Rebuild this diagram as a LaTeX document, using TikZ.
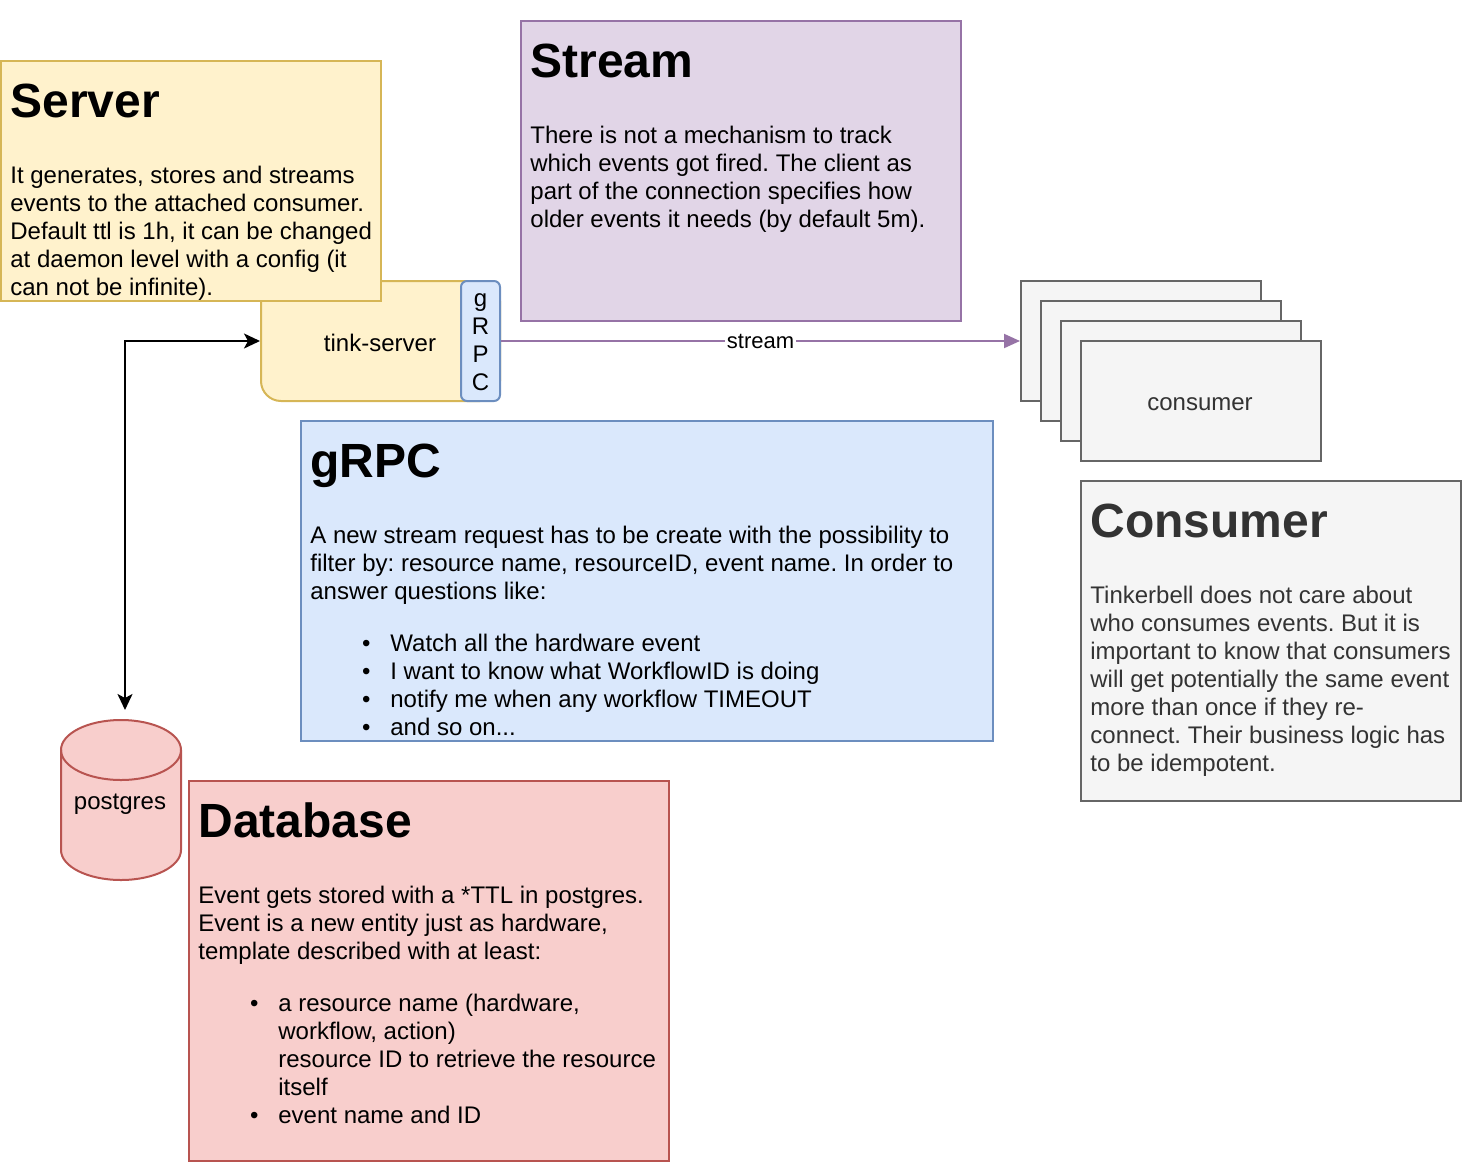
\documentclass[tikz,border=0pt]{standalone}
\usepackage{fontspec}
\setmainfont{Liberation Sans}
\usetikzlibrary{arrows.meta}
\frenchspacing
\definecolor{yfill}{HTML}{FFF2CC}\definecolor{ydraw}{HTML}{D6B656}
\definecolor{bfill}{HTML}{DAE8FC}\definecolor{bdraw}{HTML}{6C8EBF}
\definecolor{pfill}{HTML}{E1D5E7}\definecolor{pdraw}{HTML}{9673A6}
\definecolor{gfill}{HTML}{F5F5F5}\definecolor{gdraw}{HTML}{666666}\definecolor{gtext}{HTML}{333333}
\definecolor{rfill}{HTML}{F8CECC}\definecolor{rdraw}{HTML}{B85450}
\begin{document}
\begin{tikzpicture}[x=0.5pt,y=-0.5pt,
  box/.style={rectangle, line width=1pt, inner sep=0pt},
  body/.style={anchor=base west, inner sep=0pt, align=left, font=\fontsize{12}{14}\selectfont},
  ttl/.style={anchor=base west, inner sep=0pt, font=\fontsize{24}{28}\selectfont\bfseries},
  lbl/.style={inner sep=0pt, font=\fontsize{12}{14}\selectfont},
  tip/.style={line width=1pt}
]
\useasboundingbox (0,0) rectangle (1462,1162);

% tink-server with gRPC port
\node[box, draw=ydraw, fill=yfill, rounded corners=10pt, minimum width=119.5pt, minimum height=60pt] (ts) at (380.5,341) {};
\node[lbl] (tslbl) at (380,343) {tink-server};
\node[box, draw=bdraw, fill=bfill, rounded corners=3pt, minimum width=19.5pt, minimum height=60pt] (grpc) at (480.5,341) {};
\node[lbl, align=center] (grpclbl) at (480.5,342) {g\\R\\P\\C};

% Server note
\node[box, draw=ydraw, fill=yfill, minimum width=190pt, minimum height=120pt] (servernote) at (191,181) {};
\node[ttl] (servertitle) at (10,117) {Server};
\node[body] (servertext) at (10,295) {It generates, stores and streams\\events to the attached consumer.\\Default ttl is 1h, it can be changed\\at daemon level with a config (it\\can not be infinite).};

% Stream note
\node[box, draw=pdraw, fill=pfill, minimum width=220pt, minimum height=150pt] (streamnote) at (741,171) {};
\node[ttl] (streamtitle) at (530,77) {Stream};
\node[body] (streamtext) at (530,227) {There is not a mechanism to track\\which events got fired. The client as\\part of the connection specifies how\\older events it needs (by default 5m).};

% consumers
\node[box, draw=gdraw, fill=gfill, minimum width=120pt, minimum height=60pt] (c1) at (1141,341) {};
\node[box, draw=gdraw, fill=gfill, minimum width=120pt, minimum height=60pt] (c2) at (1161,361) {};
\node[box, draw=gdraw, fill=gfill, minimum width=120pt, minimum height=60pt] (c3) at (1181,381) {};
\node[box, draw=gdraw, fill=gfill, minimum width=120pt, minimum height=60pt] (c4) at (1201,401) {};
\node[lbl, text=gtext] (c4lbl) at (1200,404) {consumer};

% stream connector
\draw[pdraw, line width=1pt, -{Triangle[length=8pt,width=7pt]}] (grpc.east) -- node[fill=white, inner sep=1pt, text=black, font=\fontsize{11}{13}\selectfont] (streamlbl) {stream} (c1.west);

% gRPC note
\node[box, draw=bdraw, fill=bfill, minimum width=346pt, minimum height=160pt] (grpcnote) at (647,581) {};
\node[ttl] (grpctitle) at (310,477) {gRPC};
\node[body] (grpctext) at (310,599) {A new stream request has to be create with the possibility to\\filter by: resource name, resourceID, event name. In order to\\answer questions like:};
\node[body] (grpclist) at (390,735) {\llap{\textbullet\hspace{10pt}}Watch all the hardware event\\\llap{\textbullet\hspace{10pt}}I want to know what WorkflowID is doing\\\llap{\textbullet\hspace{10pt}}notify me when any workflow TIMEOUT\\\llap{\textbullet\hspace{10pt}}and so on...};

% Consumer note
\node[box, draw=gdraw, fill=gfill, minimum width=190pt, minimum height=160pt] (consnote) at (1271,641) {};
\node[ttl, text=gtext] (constitle) at (1090,537) {Consumer};
\node[body, text=gtext] (constext) at (1090,771) {Tinkerbell does not care about\\who consumes events. But it is\\important to know that consumers\\will get potentially the same event\\more than once if they re-\\connect. Their business logic has\\to be idempotent.};

% postgres cylinder
\filldraw[draw=rdraw, fill=rfill, line width=1pt] (61,750) -- (61,850) arc[start angle=180, end angle=360, x radius=30pt, y radius=15pt] -- (181,750) arc[start angle=0, end angle=180, x radius=30pt, y radius=15pt] -- cycle;
\draw[rdraw, line width=1pt] (61,750) arc[start angle=180, end angle=360, x radius=30pt, y radius=15pt];
\node[lbl] (pg) at (120,804) {postgres};
\coordinate (pgin) at (125,710);

% server <-> postgres
\draw[line width=1pt, {Stealth[length=8pt,width=7.5pt,inset=2pt]}-{Stealth[length=8pt,width=7.5pt,inset=2pt]}] (pgin) |- (ts.west);

% Database note
\node[box, draw=rdraw, fill=rfill, minimum width=240pt, minimum height=190pt] (dbnote) at (429,971) {};
\node[ttl] (dbtitle) at (198,837) {Database};
\node[body] (dbtext) at (198,959) {Event gets stored with a *TTL in postgres.\\Event is a new entity just as hardware,\\template described with at least:};
\node[body] (dblist) at (278,1123) {\llap{\textbullet\hspace{10pt}}a resource name (hardware,\\workflow, action)\\resource ID to retrieve the resource\\itself\\\llap{\textbullet\hspace{10pt}}event name and ID};
\end{tikzpicture}
\end{document}
